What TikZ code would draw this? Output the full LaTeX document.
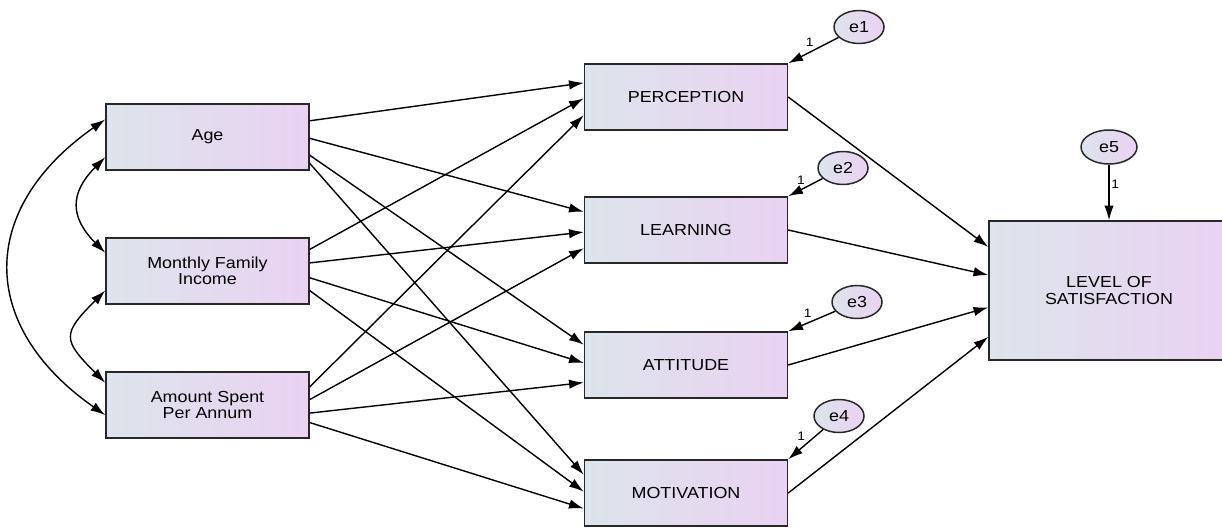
\documentclass[tikz,border=0pt]{standalone}
\usepackage{fontspec}
\setmainfont{Liberation Sans}[FakeStretch=1.12]
\usetikzlibrary{arrows.meta,calc,shapes.geometric}
\definecolor{boxL}{RGB}{221,228,235}
\definecolor{boxR}{RGB}{234,210,243}
\definecolor{edge}{RGB}{40,40,40}

\begin{document}
\begin{tikzpicture}[x=0.02cm, y=0.02cm,
	box/.style={draw=edge, line width=0.85pt, left color=boxL, right color=boxR,
		minimum width=4.06cm, minimum height=1.32cm, align=center,
		font=\fontsize{9.1}{9.2}\selectfont},
	err/.style={ellipse, draw=edge, line width=0.85pt, left color=boxL, right color=boxR,
		minimum width=1cm, minimum height=0.66cm, inner sep=0pt,
		font=\fontsize{9.1}{9.2}\selectfont},
	link/.style={-{Latex[length=8.4pt,width=5.4pt]}, line width=0.8pt},
	cov/.style={{Latex[length=8.4pt,width=5.4pt]}-{Latex[length=8.4pt,width=5.4pt]}, line width=0.8pt},
	one/.style={font=\fontsize{7}{8}\selectfont, inner sep=1pt}]
		\useasboundingbox (0,0) rectangle (1222,-527);

		\node (age) at (207.5,-137) [box] {Age};
		\node (mfi) at (207.5,-271) [box] {Monthly Family\\Income};
		\node (amt) at (207.5,-405) [box] {Amount Spent\\Per Annum};

		\node (perc)  at (686,-97)  [box] {PERCEPTION};
		\node (learn) at (686,-230) [box] {LEARNING};
		\node (att)   at (686,-365) [box] {ATTITUDE};
		\node (mot)   at (686,-493) [box] {MOTIVATION};

		\node (level) at (1109,-290.5) [box, minimum width=4.8cm, minimum height=2.78cm]
			{LEVEL OF\\SATISFACTION};

		\node (e1) at (859,-27)  [err] {e1};
		\node (e2) at (843,-168) [err] {e2};
		\node (e3) at (857,-302) [err] {e3};
		\node (e4) at (839,-416) [err] {e4};
		\node (e5) at (1109,-147) [err, minimum width=1.12cm, minimum height=0.68cm] {e5};

		\draw[cov] ($(age.north west)!.8!(age.south west)$)
			to[out=225, in=135, looseness=1.35] ($(mfi.north west)!.23!(mfi.south west)$);
		\draw[cov] ($(mfi.north west)!.79!(mfi.south west)$)
			to[out=225, in=135, looseness=1.7] ($(amt.north west)!.17!(amt.south west)$);
		\draw[cov] ($(age.north west)!.24!(age.south west)$)
			to[out=215, in=145, looseness=1.35] ($(amt.north west)!.65!(amt.south west)$);

		\draw[link] ($(age.north east)!.26!(age.south east)$) -- ($(perc.north west)!.29!(perc.south west)$);
		\draw[link] ($(age.north east)!.52!(age.south east)$) -- ($(learn.north west)!.23!(learn.south west)$);
		\draw[link] ($(age.north east)!.77!(age.south east)$) -- ($(att.north west)!.2!(att.south west)$);
		\draw[link] ($(age.north east)!.89!(age.south east)$) -- ($(mot.north west)!.23!(mot.south west)$);

		\draw[link] ($(mfi.north east)!.18!(mfi.south east)$) -- ($(perc.north west)!.52!(perc.south west)$);
		\draw[link] ($(mfi.north east)!.38!(mfi.south east)$) -- ($(learn.north west)!.53!(learn.south west)$);
		\draw[link] ($(mfi.north east)!.6!(mfi.south east)$) -- ($(att.north west)!.47!(att.south west)$);
		\draw[link] ($(mfi.north east)!.79!(mfi.south east)$) -- ($(mot.north west)!.48!(mot.south west)$);

		\draw[link] ($(amt.north east)!.23!(amt.south east)$) -- ($(perc.north west)!.77!(perc.south west)$);
		\draw[link] ($(amt.north east)!.42!(amt.south east)$) -- ($(learn.north west)!.77!(learn.south west)$);
		\draw[link] ($(amt.north east)!.62!(amt.south east)$) -- ($(att.north west)!.76!(att.south west)$);
		\draw[link] ($(amt.north east)!.76!(amt.south east)$) -- ($(mot.north west)!.73!(mot.south west)$);

		\draw[link] (perc.east)  -- ($(level.north west)!.19!(level.south west)$);
		\draw[link] (learn.east) -- ($(level.north west)!.39!(level.south west)$);
		\draw[link] (att.east)   -- ($(level.north west)!.62!(level.south west)$);
		\draw[link] (mot.east)   -- ($(level.north west)!.83!(level.south west)$);

		\draw[link] (e1) -- node[one, above left, pos=.45] {1} (perc.north east);
		\draw[link] (e2) -- node[one, above left, pos=.45] {1} (learn.north east);
		\draw[link] (e3) -- node[one, above left, pos=.45] {1} (att.north east);
		\draw[link] (e4) -- node[one, above left, pos=.45] {1} (mot.north east);
		\draw[link] (e5) -- node[one, right, pos=.35] {1} (level.north);
\end{tikzpicture}
\end{document}
